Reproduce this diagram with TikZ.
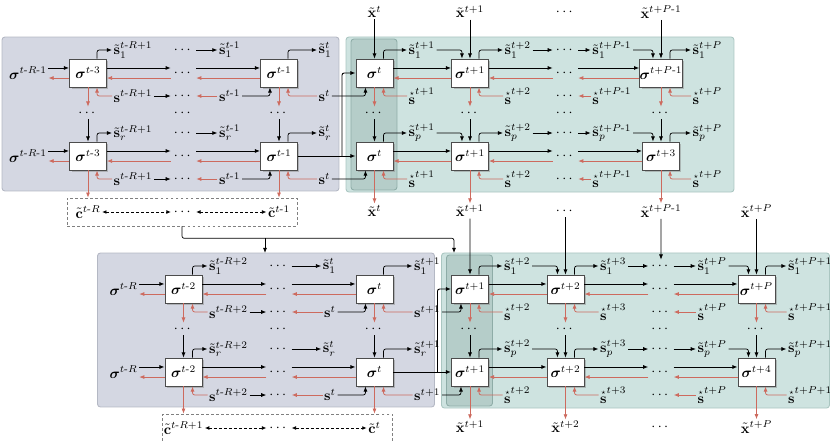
\documentclass[tikz,border=0pt]{standalone}
\usepackage{amsmath}
\usetikzlibrary{arrows.meta,shadows,calc}
\definecolor{redflow}{RGB}{205,106,94}
\definecolor{encfill}{RGB}{212,215,226}
\definecolor{encedge}{RGB}{180,184,196}
\definecolor{decfill}{RGB}{206,227,224}
\definecolor{decedge}{RGB}{170,198,193}
\definecolor{nowfill}{RGB}{181,205,201}
\definecolor{nowedge}{RGB}{142,172,167}
\newcommand{\mi}{\text{-}}
\newcommand{\sgm}{\boldsymbol{\sigma}}
\newcommand{\stl}{\tilde{\mathbf{s}}}
\newcommand{\sst}{\overset{\scriptscriptstyle\star}{\mathbf{s}}}
\newcommand{\xtl}{\tilde{\mathbf{x}}}

\begin{document}
\begin{tikzpicture}[x=0.0245cm,y=-0.0245cm,
    cell/.style={draw=black!70,line width=0.6pt,fill=white,inner sep=0pt,
      minimum width=0.906cm,minimum height=0.686cm,
      drop shadow={shadow xshift=1.4pt,shadow yshift=-1.4pt,fill=black!45}},
    lbl/.style={inner sep=1pt},
    dots/.style={inner sep=2pt},
    fw/.style={-{Latex[length=3.6pt,width=2.8pt]},line width=0.5pt,rounded corners=1.5pt},
    mw/.style={fw,line width=0.65pt},
    rw/.style={fw,redflow,line width=0.55pt},
    dw/.style={{Latex[length=3pt,width=2.6pt]}-{Latex[length=3pt,width=2.6pt]},
      dash pattern=on 2pt off 1.5pt,line width=0.5pt},
    pane/.style={rounded corners=2pt,line width=0.6pt}]
  \useasboundingbox (0,0) rectangle (830,441);
  % one block per window: past part on the left, forecast part on the right
  \foreach \p/\dx/\dy/\ti/\ta/\tc/\tl/\td/\te/\tf/\tg/\tq/\tk/\tm in {
      1/0/0/{t\mi R\mi 1}/{t\mi 3}/{t\mi 1}/{t\mi R+1}/{t}/{t+1}/{t+2}/{t+P\mi 1}/{t+3}/{t+P}/{t\mi R},
      2/95.5/216/{t\mi R}/{t\mi 2}/{t}/{t\mi R+2}/{t+1}/{t+2}/{t+3}/{t+P}/{t+4}/{t+P+1}/{t\mi R+1}}{
  \begin{scope}[shift={(\dx,\dy)}]
    \node[pane,fill=encfill,draw=encedge,minimum width=8.257cm,minimum height=3.773cm] (\p-L) at (170.5,114) {};
    \node[pane,fill=decfill,draw=decedge,minimum width=9.506cm,minimum height=3.80cm] (\p-R) at (540,114.5) {};
    \node[pane,fill=nowfill,draw=nowedge,minimum width=1.127cm,minimum height=3.70cm] (\p-H) at (374,114.5) {};
    \coordinate (\p-lin) at (169.5,37);
    \coordinate (\p-in) at (358.5,37);
    % first and last layer
    \foreach \r/\y/\rowl/\rowr/\tgl in {1/73/1/1/\tg,r/156/r/p/\tq}{
      \node[lbl] (\p-i-\r) at (28,\y) {$\sgm^{\ti}$};
      \node[cell] (\p-a-\r) at (88,\y) {$\sgm^{\ta}$};
      \node[dots] (\p-b-\r) at (183.5,\y) {$\cdots$};
      \node[cell] (\p-c-\r) at (279,\y) {$\sgm^{\tc}$};
      \node[cell] (\p-d-\r) at (374.5,\y) {$\sgm^{\td}$};
      \node[cell] (\p-e-\r) at (470,\y) {$\sgm^{\te}$};
      \node[dots] (\p-f-\r) at (565.5,\y) {$\cdots$};
      \node[cell] (\p-g-\r) at (661,\y) {$\sgm^{\tgl}$};
      % states leaving the cells
      \node[lbl,anchor=west] (\p-u1-\r) at (112,\y-23) {$\stl_{\rowl}^{\tl}$};
      \node[dots] (\p-ud-\r) at (183.5,\y-23) {$\cdots$};
      \node[lbl,anchor=east] (\p-u2-\r) at (242,\y-23) {$\stl_{\rowl}^{\tc}$};
      \node[lbl,anchor=west] (\p-u3-\r) at (317,\y-23) {$\stl_{\rowl}^{\td}$};
      \node[lbl,anchor=west] (\p-v1-\r) at (407,\y-23) {$\stl_{\rowr}^{\te}$};
      \node[lbl,anchor=west] (\p-v2-\r) at (503,\y-23) {$\stl_{\rowr}^{\tf}$};
      \node[dots] (\p-vd-\r) at (565.5,\y-23) {$\cdots$};
      \node[lbl,anchor=east] (\p-v3-\r) at (633,\y-23) {$\stl_{\rowr}^{\tg}$};
      \node[lbl,anchor=west] (\p-v4-\r) at (691,\y-23) {$\stl_{\rowr}^{\tk}$};
      % states coming in from below
      \node[lbl,anchor=west] (\p-s1-\r) at (112,\y+23) {$\mathbf{s}^{\tl}$};
      \node[dots] (\p-sd-\r) at (183.5,\y+23) {$\cdots$};
      \node[lbl,anchor=east] (\p-s2-\r) at (242,\y+23) {$\mathbf{s}^{\tc}$};
      \node[lbl,anchor=west] (\p-s3-\r) at (317,\y+23) {$\mathbf{s}^{\td}$};
      \node[lbl,anchor=west] (\p-q1-\r) at (407,\y+23) {$\sst^{\te}$};
      \node[lbl,anchor=west] (\p-q2-\r) at (503,\y+23) {$\sst^{\tf}$};
      \node[dots] (\p-qd-\r) at (565.5,\y+23) {$\cdots$};
      \node[lbl,anchor=east] (\p-q3-\r) at (633,\y+23) {$\sst^{\tg}$};
      \node[lbl,anchor=west] (\p-q4-\r) at (691,\y+23) {$\sst^{\tk}$};
      % forward (black) and backward (red) along the row
      \draw[mw] ([yshift=3.5pt]\p-i-\r.east) -- ([yshift=3.5pt]\p-a-\r.west);
      \draw[rw] ([yshift=-3.5pt]\p-a-\r.west) -- ([yshift=-3.5pt]\p-i-\r.east);
      \foreach \ka/\kb in {a/b,b/c,d/e,e/f,f/g}{
        \draw[mw] ([yshift=3.5pt]\p-\ka-\r.east) -- ([yshift=3.5pt]\p-\kb-\r.west);
        \draw[rw] ([yshift=-3.5pt]\p-\kb-\r.west) -- ([yshift=-3.5pt]\p-\ka-\r.east);
      }
      \foreach \k/\lab in {a/u1,c/u3,d/v1,e/v2,g/v4}
        \draw[fw] ([xshift=6.3pt]\p-\k-\r.north) |- (\p-\lab-\r.west);
      \draw[fw] (\p-ud-\r.east) -- (\p-u2-\r.west);
      \draw[fw] (\p-v1-\r.east) -| ([xshift=-5.6pt]\p-e-\r.north);
      \draw[fw] (\p-v2-\r.east) -- (\p-vd-\r.west);
      \draw[fw] (\p-vd-\r.east) -- (\p-v3-\r.west);
      \draw[fw] (\p-v3-\r.east) -| ([xshift=-5.6pt]\p-g-\r.north);
      \foreach \k/\lab in {a/s1,c/s3,d/q1,e/q2,g/q4}
        \draw[rw] (\p-\lab-\r.west) -| ([xshift=6.3pt]\p-\k-\r.south);
      \draw[fw] (\p-s1-\r.east) -- (\p-sd-\r.west);
      \draw[rw] (\p-s2-\r.west) -- (\p-sd-\r.east);
      \draw[fw] (\p-s2-\r.east) -| ([xshift=-6.3pt]\p-c-\r.south);
      \draw[fw] (\p-s3-\r.east) -| ([xshift=-6.3pt]\p-d-\r.south);
      \draw[rw] (\p-q3-\r.west) -- (\p-qd-\r.east);
    }
    % layers in between
    \foreach \k/\xx in {a/88,b/183.5,c/279,d/374.5,e/470,f/565.5,g/661}
      \node[dots] (\p-m\k) at (\xx,113) {$\cdots$};
    \foreach \k in {a,c,d,e,g}{
      \draw[rw] (\p-\k-1.south) -- (\p-m\k.north);
      \draw[fw] (\p-m\k.south) -- (\p-\k-r.north);
    }
    % last past cell feeds the forecast
    \coordinate (\p-j) at (342,156);
    \draw[mw] (\p-c-r.east) -- (\p-d-r.west);
    \draw[mw] (\p-j) |- (\p-d-1.west);
    % predictions
    \node[lbl] (\p-od) at (374.5,211) {$\xtl^{\td}$};
    \node[lbl] (\p-oe) at (470,211) {$\xtl^{\te}$};
    \node[dots] (\p-of) at (565.5,211) {$\cdots$};
    \node[lbl] (\p-og) at (661,211) {$\xtl^{\tg}$};
    \foreach \k in {d,e,g} \draw[rw] (\p-\k-r.south) -- (\p-o\k.north);
    % context vectors of the past part
    \node[draw=black!50,dash pattern=on 2pt off 1.5pt,minimum width=5.635cm,minimum height=0.686cm] (\p-cb) at (182,212) {};
    \node[lbl] (\p-c0) at (88,212) {$\tilde{\mathbf{c}}^{\tm}$};
    \node[dots] (\p-c1) at (183.5,212) {$\cdots$};
    \node[lbl] (\p-c2) at (279,212) {$\tilde{\mathbf{c}}^{\tc}$};
    \draw[dw] (\p-c0) -- (\p-c1);
    \draw[dw] (\p-c1) -- (\p-c2);
    \foreach \k in {a,c} \draw[rw] (\p-\k-r.south) -- (\p-\k-r.south |- \p-cb.north);
  \end{scope}
  }
  % inputs of the first window
  \node[lbl] (x0) at (374.5,12) {$\xtl^{t}$};
  \node[lbl] (x1) at (470,12) {$\xtl^{t+1}$};
  \node[dots] (x2) at (565.5,12) {$\cdots$};
  \node[lbl] (x3) at (661,12) {$\xtl^{t+P\mi 1}$};
  \draw[fw] (x0.south) -- (1-d-1.north);
  \draw[fw] (x1.south) -- (1-e-1.north);
  \draw[fw] (x3.south) -- (1-g-1.north);
  % inputs of the second window
  \node[lbl] (xP) at (756.5,211) {$\xtl^{t+P}$};
  \draw[fw] (1-oe.south) -- (2-d-1.north);
  \draw[fw] (1-of.south) -- (2-e-1.north);
  \draw[fw] (1-og.south) -- (2-vd-1.north);
  \draw[fw] (xP.south) -- (2-g-1.north);
  % context handed on
  \coordinate (bend) at ($(1-cb.south)+(0,12)$);
  \draw[fw] (1-cb.south) -- (bend) -| (2-in);
  \draw[fw] (bend -| 2-lin) -- (2-lin);
\end{tikzpicture}
\end{document}
